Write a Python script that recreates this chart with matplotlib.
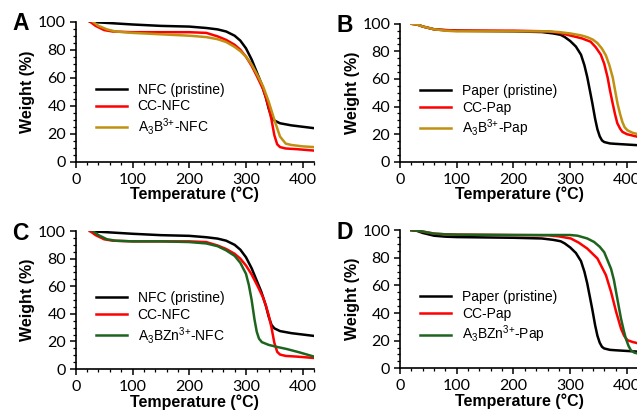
import matplotlib.pyplot as plt
from matplotlib.ticker import MultipleLocator

plt.rcParams['font.family'] = ['Liberation Sans', 'DejaVu Sans']

# ---- data (temperature in C, weight in %) ----
# NFC panels (A, C)
nfc_T = [25, 40, 60, 100, 150, 200, 230, 250, 265, 280, 290, 300, 310, 320, 327, 335, 340, 345, 350, 360, 380, 400, 420]
nfc_W = [100, 99.5, 99, 98, 97, 96.5, 95.5, 94.5, 93, 90, 86.5, 81, 73, 63, 56, 46, 38, 32, 29.5, 27.5, 26, 25, 24]

ccnfc_T = [25, 35, 50, 65, 100, 150, 200, 230, 250, 265, 280, 290, 300, 310, 320, 330, 335, 340, 345, 350, 355, 360, 370, 390, 420]
ccnfc_W = [100, 97, 94, 93, 92.5, 92.5, 92.5, 92, 89.5, 87, 83.5, 80, 75, 68.5, 60.5, 52, 46, 39, 30, 19, 12.5, 10.5, 9.5, 9, 8]

a3b_nfc_T = [30, 40, 55, 70, 100, 150, 200, 230, 250, 265, 280, 290, 300, 310, 320, 330, 340, 350, 360, 370, 380, 400, 420]
a3b_nfc_W = [100, 97, 94.5, 93, 92, 91, 90, 89, 87.5, 85.5, 82, 79, 75, 69.5, 62, 54, 43, 30, 18, 13, 12, 11, 10.5]

a3bzn_nfc_T = [30, 40, 55, 70, 100, 150, 200, 230, 250, 265, 280, 290, 300, 305, 310, 315, 319, 323, 328, 340, 355, 372, 395, 420]
a3bzn_nfc_W = [100, 97, 94, 93, 92.5, 92.5, 92, 91, 89, 86, 82, 77, 69, 61, 50, 36, 27, 22, 19.5, 17.5, 16, 14.5, 12, 9]

# Paper panels (B, D)
pap_T = [20, 30, 40, 60, 80, 100, 200, 250, 270, 283, 290, 300, 310, 319, 325, 330, 335, 339, 344, 348, 352, 356, 360, 370, 380, 400, 420]
pap_W = [100, 99.5, 98, 96, 95.3, 95, 94.5, 94, 93, 92, 90.5, 87.5, 83.5, 77.6, 70, 61.5, 51, 42.5, 31, 23.5, 18.5, 15.5, 14.3, 13.3, 13, 12.5, 12]

ccpap_T = [20, 30, 40, 60, 80, 100, 200, 260, 280, 300, 320, 336, 345, 354, 360, 366, 370, 375, 379, 383, 388, 392, 400, 407, 420]
ccpap_W = [100, 99.5, 98, 96, 95.5, 95, 95, 94.5, 93.5, 91.5, 89.5, 87, 83, 77.6, 71, 61, 52, 42, 34.5, 28, 24, 21.7, 20, 19.3, 18]

a3b_pap_T = [20, 30, 40, 60, 80, 100, 200, 260, 280, 300, 320, 330, 340, 348, 356, 363, 369, 375, 379, 383.5, 388, 392, 396, 401, 410, 420]
a3b_pap_W = [100, 99.5, 98, 96, 95, 94.5, 94.5, 94.5, 94, 93, 91.5, 90.3, 88.5, 86, 82, 77, 70, 61, 52, 42, 34.5, 28.8, 25, 22.8, 21, 20]

ccpap_d_T = [20, 30, 40, 60, 80, 100, 200, 260, 280, 301, 315, 330, 348, 363, 372, 381, 389.5, 395, 401, 410, 420]
ccpap_d_W = [100, 99.7, 99, 97.5, 97, 96.8, 96.5, 96.3, 95.5, 94, 91, 86.7, 79.5, 67.4, 55.3, 40.8, 28.8, 23.5, 20.3, 19, 18]

a3bzn_pap_T = [20, 30, 40, 60, 80, 100, 200, 300, 313, 330, 342, 352, 360, 367, 372, 377, 381, 385, 389.5, 394, 398, 403, 407, 413, 420]
a3bzn_pap_W = [100, 99.7, 99, 97.5, 97, 96.8, 96.5, 96.5, 96, 94, 91.5, 88, 84, 77, 72, 64, 55, 46, 36, 28, 21.5, 16, 13, 11.3, 10.6]

GOLD = '#C09010'
GREEN = '#1E641E'

panels = [
    ('A', [0.119, 0.612, 0.374, 0.336],
     [(nfc_T, nfc_W, 'black', 'NFC (pristine)'),
      (ccnfc_T, ccnfc_W, 'red', 'CC-NFC'),
      (a3b_nfc_T, a3b_nfc_W, GOLD, r'A$_\mathregular{3}$B$^\mathregular{3{+}}$-NFC')]),
    ('B', [0.628, 0.612, 0.374, 0.331],
     [(pap_T, pap_W, 'black', 'Paper (pristine)'),
      (ccpap_T, ccpap_W, 'red', 'CC-Pap'),
      (a3b_pap_T, a3b_pap_W, GOLD, r'A$_\mathregular{3}$B$^\mathregular{3{+}}$-Pap')]),
    ('C', [0.119, 0.115, 0.374, 0.331],
     [(nfc_T, nfc_W, 'black', 'NFC (pristine)'),
      (ccnfc_T, ccnfc_W, 'red', 'CC-NFC'),
      (a3bzn_nfc_T, a3bzn_nfc_W, GREEN, r'A$_\mathregular{3}$BZn$^\mathregular{3{+}}$-NFC')]),
    ('D', [0.628, 0.117, 0.374, 0.331],
     [(pap_T, pap_W, 'black', 'Paper (pristine)'),
      (ccpap_d_T, ccpap_d_W, 'red', 'CC-Pap'),
      (a3bzn_pap_T, a3bzn_pap_W, GREEN, r'A$_\mathregular{3}$BZn$^\mathregular{3{+}}$-Pap')]),
]

fig = plt.figure(figsize=(6.37, 4.17), dpi=100)

for letter, rect, series in panels:
    ax = fig.add_axes(rect)
    for T, W, c, lab in series:
        ax.plot(T, W, color=c, lw=1.8, label=lab)
    ax.set_xlim(0, 420)
    ax.set_ylim(0, 100)
    ax.xaxis.set_major_locator(MultipleLocator(100))
    ax.xaxis.set_minor_locator(MultipleLocator(20))
    ax.yaxis.set_major_locator(MultipleLocator(20))
    ax.yaxis.set_minor_locator(MultipleLocator(5))
    for s in ['top', 'right']:
        ax.spines[s].set_visible(False)
    for s in ['left', 'bottom']:
        ax.spines[s].set_linewidth(1.2)
    ax.tick_params(which='major', direction='out', length=4, width=1.1, labelsize=11.5)
    ax.tick_params(which='minor', direction='out', length=2.5, width=0.9)
    ax.tick_params(axis='x', pad=4)
    ax.tick_params(axis='y', pad=3)
    for lbl in ax.get_xticklabels() + ax.get_yticklabels():
        lbl.set_family(['Lato', 'DejaVu Sans'])
    ax.set_xlabel('Temperature (°C)', fontsize=11.5, fontweight='bold', labelpad=0)
    ax.set_ylabel('Weight (%)', fontsize=11.5, fontweight='bold', labelpad=2)
    ax.legend(loc='upper left', bbox_to_anchor=(0.085, 0.565), frameon=False,
              fontsize=10, handlelength=2.2, handletextpad=0.8, labelspacing=0.2,
              borderpad=0, borderaxespad=0)
    pos = ax.get_position()
    fig.text(pos.x0 - 0.1, pos.y1 - 0.005, letter, fontsize=16.5, fontweight='bold',
             ha='left', va='center')

fig.savefig('out.png', dpi=100)
